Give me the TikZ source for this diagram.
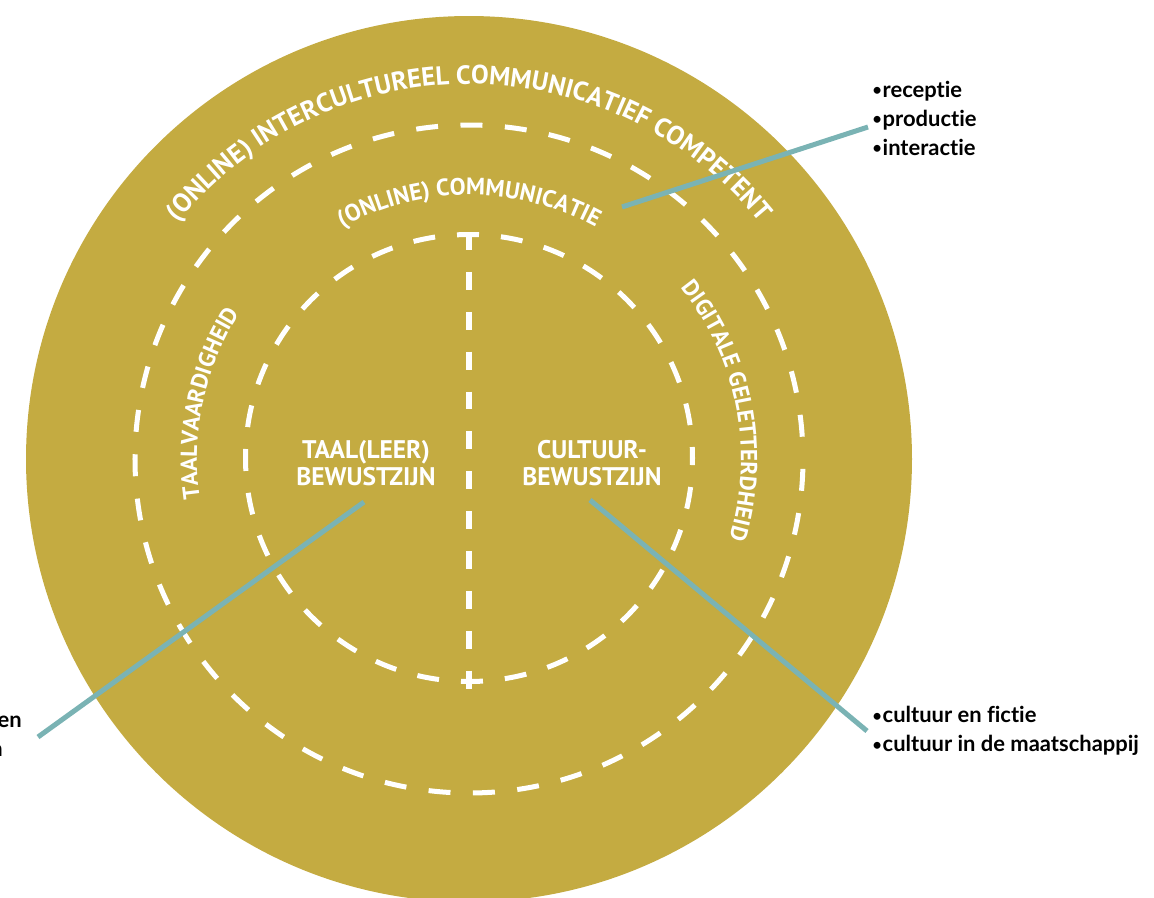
\documentclass[tikz,border=0pt]{standalone}
\usepackage{fontspec}
\setmainfont{Lato}[Ligatures=NoCommon]
\newfontfamily\capfont{PT Sans}
\usepackage{tikz}
\usetikzlibrary{calc}
\usetikzlibrary{positioning}
\usetikzlibrary{decorations.text}

\definecolor{discgold}{RGB}{196,171,65}
\definecolor{pointerblue}{RGB}{122,179,180}

\newcommand\itm{\raisebox{0.12ex}{\fontsize{9}{9}\selectfont\textbullet}\hspace{0.5pt}}

\tikzset{
  ring/.style={white, line width=2.85pt},
  pointer/.style={pointerblue, line width=2.85pt},
  core/.style={text=white, align=center, inner sep=0pt, font=\capfont\bfseries\fontsize{14.5}{15.5}\selectfont},
  bullets/.style={align=left, anchor=west, inner xsep=3pt, inner ysep=0pt, font=\bfseries\fontsize{12.5}{16.5}\selectfont},
  arctext/.style 2 args={decorate, decoration={text along path, text align=center, text color=white,
      text={|\capfont\bfseries\fontsize{#1}{#1}\selectfont|#2}}}
}

\begin{document}
\begin{tikzpicture}[x=0.02cm, y=0.02cm]
    \useasboundingbox (0,0) rectangle (1154,-897);
    \coordinate (ctr) at (469,-459);
    \coordinate (core) at (469,-458);

    % disc
    \fill[discgold] (ctr) circle[radius=443];

    % dashed rings
    \draw[ring, dash pattern=on 12.5pt off 12.8pt, dash phase=12.6pt] (ctr) circle[radius=334];
    \draw[ring, dash pattern=on 12.5pt off 12.55pt, dash phase=6.24pt] (core) circle[radius=223.5];

    % divider
    \draw[ring, dash pattern=on 10.2pt off 12.5pt] (469,-232) -- (469,-690);

    % curved labels
    \path[arctext={15}{(ONLINE) INTERCULTUREEL COMMUNICATIEF COMPETENT}]
        ($(ctr)+(175:375)$) arc[start angle=175, end angle=5, radius=375];
    \path[arctext={13.5}{(ONLINE) COMMUNICATIE}]
        ($(ctr)+(160:264)$) arc[start angle=160, end angle=20, radius=264];
    \path[arctext={13.2}{TAALVAARDIGHEID}]
        ($(ctr)+(218:272)$) arc[start angle=218, end angle=118, radius=272];
    \path[arctext={13.2}{DIGITALE GELETTERDHEID}]
        ($(ctr)+(61:272)$) arc[start angle=61, end angle=-39, radius=272];

    % centre
    \node[core] (taal) at (366,-463) {TAAL(LEER)\\BEWUSTZIJN};
    \node[core] (cultuur) at (592,-463) {CULTUUR-\\BEWUSTZIJN};

    % lists
    \node[bullets] (recList) at (867,-118) {\itm receptie\\\itm productie\\\itm interactie};
    \node[bullets] (cultList) at (867,-731) {\itm cultuur en fictie\\\itm cultuur in de maatschappij};
    \node[anchor=base east, inner sep=0pt, font=\bfseries\fontsize{12.5}{16.5}\selectfont] (leftA) at (22,-727) {en};
    \node[anchor=base east, inner sep=0pt, font=\bfseries\fontsize{12.5}{16.5}\selectfont] (leftB) at (3,-756) {n};

    % pointers
    \coordinate (commEnd) at (622,-207);
    \coordinate (taalTip) at (364,-502);
    \coordinate (cultTip) at (590,-500);
    \coordinate (leftEnd) at (38,-737);
    \draw[pointer] (commEnd) -- ($(recList.west)+(1,-9)$);
    \draw[pointer] (taalTip) -- (leftEnd);
    \draw[pointer] (cultTip) -- (cultList.west);
\end{tikzpicture}
\end{document}
